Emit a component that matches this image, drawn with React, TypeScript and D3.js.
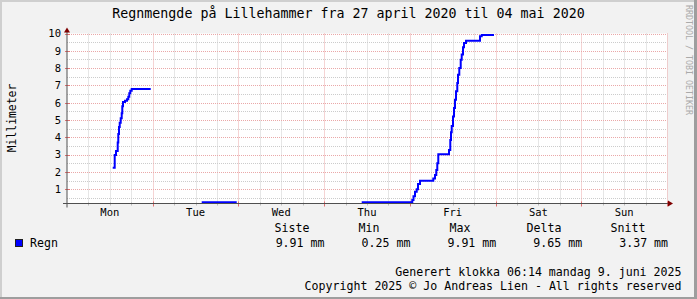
import React from "react";
import * as d3 from "d3";

// ---- Data (hours after Mon 27 April 2020 00:00, cumulative rain in mm) ----
const dayLabels = ["Mon", "Tue", "Wed", "Thu", "Fri", "Sat", "Sun"];
const yMajorTicks = [1, 2, 3, 4, 5, 6, 7, 8, 9, 10];

const monHours = [12.8, 13.36, 13.72, 14.2, 14.36, 14.56, 14.76, 15.04, 15.32, 15.48, 15.68, 16.24, 16.8, 17.16, 17.44, 17.72, 18.12, 23.44];
const monValues = [2.25, 2.98, 3.21, 3.7, 4.2, 4.6, 4.85, 5.1, 5.4, 5.8, 6.05, 6.12, 6.2, 6.35, 6.55, 6.7, 6.8, 6.8];

const tueHours = [37.72, 47.52];
const tueValues = [0.25, 0.25];

const thuHours = [82.52, 96.68, 97.02, 97.44, 97.92, 98.28, 98.84, 102.56, 103.04, 103.4, 103.68, 103.96, 106.96, 107.32, 107.52, 107.72, 108.08, 108.36, 108.64, 108.92, 109.28, 109.48, 109.84, 110.24, 110.52, 110.88, 111.16, 111.72, 115.64, 116.12, 119.56];
const thuValues = [0.25, 0.38, 0.6, 0.86, 1.0, 1.3, 1.5, 1.63, 1.82, 2.11, 2.5, 3.02, 3.27, 3.85, 4.3, 4.66, 5.2, 5.7, 6.18, 6.66, 7.14, 7.62, 8.0, 8.49, 8.78, 9.2, 9.45, 9.58, 9.84, 9.91, 9.91];

const legendHeaders = ["Siste", "Min", "Max", "Delta", "Snitt"];
const legendValues = ["9.91 mm", "0.25 mm", "9.91 mm", "9.65 mm", "3.37 mm"];
const seriesName = "Regn";
const title = "Regnmengde på Lillehammer fra 27 april 2020 til 04 mai 2020";
const yLabel = "Millimeter";
const footer1 = "Generert klokka 06:14 mandag 9. juni 2025";
const footer2 = "Copyright 2025 © Jo Andreas Lien - All rights reserved";
const watermark = "RRDTOOL / TOBI OETIKER";

const W = 697;
const H = 299;
const L = 67, R = 667, T = 33.5, B = 203.5;
const FONT = "'DejaVu Sans Mono', monospace";

export default function App() {
  const x = d3.scaleLinear().domain([0, 168]).range([L, R]);
  const y = d3.scaleLinear().domain([0.18, 10]).range([B, T]);

  const segments = [
    monHours.map((h, i) => [h, monValues[i]] as [number, number]),
    tueHours.map((h, i) => [h, tueValues[i]] as [number, number]),
    thuHours.map((h, i) => [h, thuValues[i]] as [number, number]),
  ];
  const line = d3
    .line<[number, number]>()
    .x((d) => x(d[0]))
    .y((d) => y(d[1]))
    .curve(d3.curveStepAfter);

  const minorX = d3.range(6, 168, 6).filter((h) => h % 24 !== 0);
  const majorX = d3.range(24, 169, 24);
  const minorY = d3.range(0.5, 10, 1);
  const px = (v: number) => Math.round(v) + 0.5;

  const colEnds = legendValues.map((_, i) => 324.5 + i * 85.9);
  const headerCenters = [292, 369, 460, 544, 628];

  return (
    <svg
      width={W}
      height={H}
      style={{ position: "absolute", left: 0, top: 0, display: "block" }}
      fontFamily={FONT}
    >
      <rect x={0} y={0} width={W} height={H} fill="#f2f2f2" />
      {/* shade border */}
      <rect x={0} y={0} width={W} height={2} fill="#cfcfcf" />
      <rect x={0} y={0} width={2} height={H} fill="#cfcfcf" />
      <rect x={0} y={H - 2} width={W} height={2} fill="#9e9e9e" />
      <rect x={W - 3} y={0} width={3} height={H} fill="#9e9e9e" />

      {/* canvas */}
      <rect x={L} y={T} width={R - L} height={B - T} fill="#ffffff" />

      {/* grid */}
      {minorX.map((h) => (
        <line key={"mx" + h} x1={px(x(h))} x2={px(x(h))} y1={T} y2={B} stroke="#cccccc" strokeDasharray="1,1" />
      ))}
      {minorY.map((v) => (
        <line key={"my" + v} x1={L} x2={R} y1={px(y(v))} y2={px(y(v))} stroke="#cccccc" strokeDasharray="1,1" />
      ))}
      {majorX.map((h) => (
        <line key={"Mx" + h} x1={px(x(h))} x2={px(x(h))} y1={T} y2={B} stroke="#eaa8a8" strokeDasharray="1,1" />
      ))}
      {yMajorTicks.map((v) => (
        <line key={"My" + v} x1={L} x2={R} y1={px(y(v))} y2={px(y(v))} stroke="#eaa8a8" strokeDasharray="1,1" />
      ))}

      {/* ticks on axes */}
      {minorX.map((h) => (
        <line key={"tx" + h} x1={px(x(h))} x2={px(x(h))} y1={B - 1} y2={B + 2} stroke="#bbbbbb" />
      ))}
      {majorX.map((h) => (
        <line key={"Tx" + h} x1={px(x(h))} x2={px(x(h))} y1={B - 2} y2={B + 3} stroke="#e07070" />
      ))}
      {yMajorTicks.map((v) => (
        <line key={"Ty" + v} x1={L - 2} x2={L + 3} y1={px(y(v))} y2={px(y(v))} stroke="#e07070" />
      ))}

      {/* data */}
      {segments.map((s, i) => (
        <path key={"s" + i} d={line(s) || ""} fill="none" stroke="#0000ff" strokeWidth={2} />
      ))}

      {/* axes */}
      <line x1={L - 4} x2={R + 3} y1={B} y2={B} stroke="#505050" />
      <line x1={L} x2={L} y1={B + 4} y2={T - 3} stroke="#505050" />
      <path d={`M${R + 1},${B - 3} L${R + 6},${B} L${R + 1},${B + 3} Z`} fill="#7f0000" />
      <path d={`M${L - 3},${T - 1} L${L},${T - 6} L${L + 3},${T - 1} Z`} fill="#7f0000" />

      {/* y labels */}
      {yMajorTicks.map((v) => (
        <text key={"yl" + v} x={61} y={y(v) + 3.8} textAnchor="end" fontSize={10.5} fill="#000">
          {v}
        </text>
      ))}
      {/* x labels */}
      {dayLabels.map((d, i) => (
        <text key={d} x={x(i * 24 + 12)} y={216} textAnchor="middle" fontSize={10.5} fill="#000">
          {d}
        </text>
      ))}

      {/* title */}
      <text x={348.5} y={18} textAnchor="middle" fontSize={13.3} fill="#000">
        {title}
      </text>
      {/* y label */}
      <text transform={`translate(16,118) rotate(-90)`} textAnchor="middle" fontSize={11.4} fill="#000">
        {yLabel}
      </text>
      {/* watermark */}
      <text transform={`translate(686,5) rotate(90)`} fontSize={8.3} fill="#aaaaaa">
        {watermark}
      </text>

      {/* legend */}
      {legendHeaders.map((h, i) => (
        <text key={h} x={headerCenters[i]} y={232} textAnchor="middle" fontSize={11.6} fill="#000">
          {h}
        </text>
      ))}
      <rect x={15.5} y={239.5} width={7} height={7} fill="#0000ff" stroke="#202020" />
      <text x={30} y={247} fontSize={11.6} fill="#000">
        {seriesName}
      </text>
      {legendValues.map((v, i) => (
        <text key={"lv" + i} x={colEnds[i]} y={247} textAnchor="end" fontSize={11.6} fill="#000">
          {v}
        </text>
      ))}

      {/* footer */}
      <text x={681.5} y={276} textAnchor="end" fontSize={11.6} fill="#000">
        {footer1}
      </text>
      <text x={681.5} y={290} textAnchor="end" fontSize={11.6} fill="#000">
        {footer2}
      </text>
    </svg>
  );
}
